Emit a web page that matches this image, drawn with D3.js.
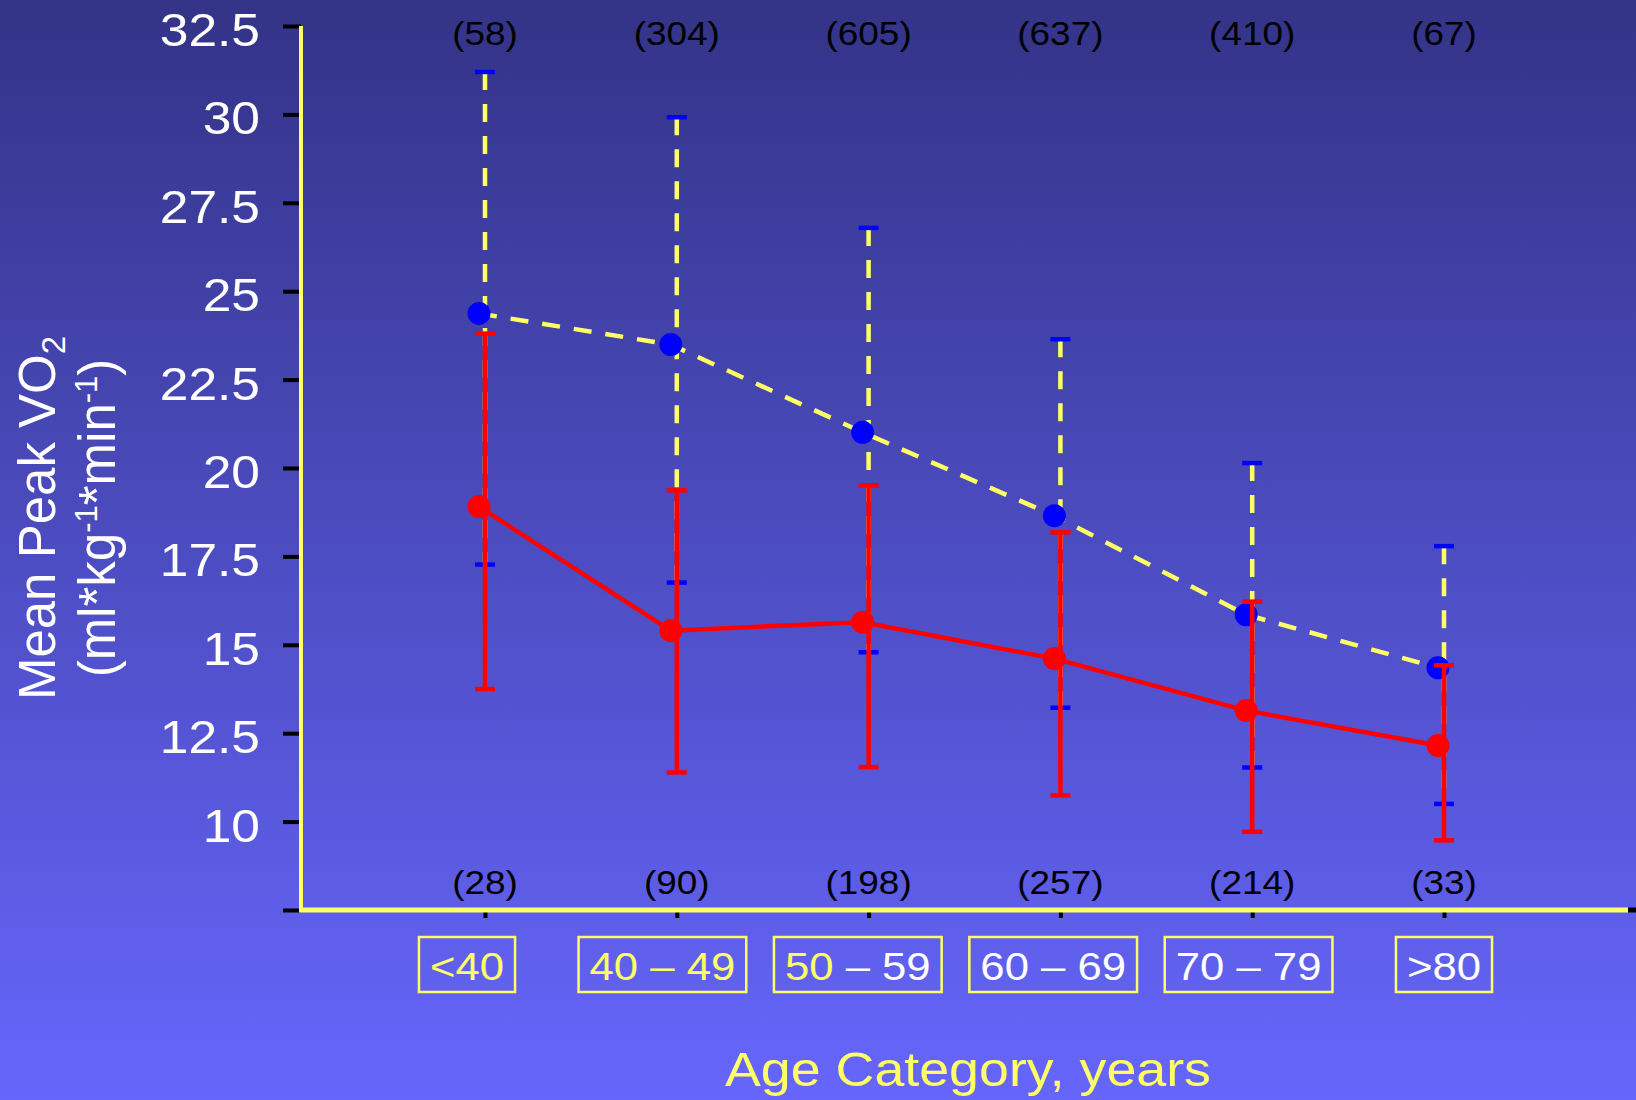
<!DOCTYPE html>
<html>
<head>
<meta charset="utf-8">
<script src="https://cdn.jsdelivr.net/npm/d3@7"></script>
<style>
  html, body { margin: 0; padding: 0; }
  body { width: 1636px; height: 1100px; overflow: hidden; }
  text { font-family: "Liberation Sans", Arial, sans-serif; }
</style>
</head>
<body>
<div id="chart"></div>
<script>
// Data
const categories = ["<40", "40 – 49", "50 – 59", "60 – 69", "70 – 79", ">80"];
const nTop = [58, 304, 605, 637, 410, 67];
const nBottom = [28, 90, 198, 257, 214, 33];

const blueMean = [24.37, 23.49, 21.01, 18.65, 15.85, 14.35];
const blueHigh = [31.2, 29.92, 26.79, 23.64, 20.14, 17.79];
const blueLow = [17.27, 16.76, 14.79, 13.22, 11.53, 10.5];

const redMean = [18.91, 15.4, 15.64, 14.61, 13.14, 12.15];
const redHigh = [23.8, 19.37, 19.51, 18.18, 16.22, 14.42];
const redLow = [13.75, 11.39, 11.54, 10.74, 9.71, 9.47];

const yTicks = [7.5, 10, 12.5, 15, 17.5, 20, 22.5, 25, 27.5, 30, 32.5];

// Dimensions
const width = 1636;
const height = 1100;
const SX = 1.12; // horizontal stretch of the slide text
const yellow = "#ffff66";

const svg = d3.select("#chart")
    .append("svg")
    .attr("width", width)
    .attr("height", height);

const defs = svg.append("defs");
const bg = defs.append("linearGradient")
    .attr("id", "bg")
    .attr("x1", 0).attr("y1", 0).attr("x2", 0).attr("y2", 1);
bg.append("stop").attr("offset", 0).attr("stop-color", "#333387");
bg.append("stop").attr("offset", 1).attr("stop-color", "#6666fc");

svg.append("rect")
    .attr("width", width)
    .attr("height", height)
    .attr("fill", "url(#bg)");

// Scales
const x = d3.scalePoint()
    .domain(categories)
    .range([485, 1444]);

// the label boxes under the axis sit on their own, slightly tighter spacing
const xBox = d3.scalePoint()
    .domain(categories)
    .range([467, 1444]);

const y = d3.scaleLinear()
    .domain([7.5, 32.5])
    .range([910, 26]);

const dotShift = -6;

// Y axis ticks (black) + labels
const yAxis = svg.append("g")
    .attr("transform", "translate(301,0)")
    .call(d3.axisLeft(y).tickValues(yTicks).tickSize(18).tickFormat(""));
yAxis.select(".domain").remove();
yAxis.selectAll(".tick line").attr("stroke", "black").attr("stroke-width", 4);

svg.selectAll("ytick")
    .data(yTicks.filter(d => d !== 7.5))
    .enter()
    .append("text")
    .attr("transform", d => `translate(260, ${y(d) + 20}) scale(${SX},1)`)
    .attr("text-anchor", "end")
    .style("font-size", "46px")
    .style("fill", "white")
    .text(d => d);

// X axis ticks (black)
const xAxis = svg.append("g")
    .attr("transform", "translate(0,910)")
    .call(d3.axisBottom(x).tickSize(8).tickFormat(""));
xAxis.select(".domain").remove();
xAxis.selectAll(".tick line").attr("stroke", "black").attr("stroke-width", 4);

// Axis lines (yellow)
svg.append("line")
    .attr("x1", 301).attr("x2", 301)
    .attr("y1", y(32.5)).attr("y2", y(7.5) + 2)
    .attr("stroke", yellow).attr("stroke-width", 4);
svg.append("line")
    .attr("x1", 299).attr("x2", 1628)
    .attr("y1", y(7.5)).attr("y2", y(7.5))
    .attr("stroke", yellow).attr("stroke-width", 5);
svg.append("line")
    .attr("x1", 1628).attr("x2", 1636)
    .attr("y1", y(7.5)).attr("y2", y(7.5))
    .attr("stroke", "black").attr("stroke-width", 5);

// Blue group: dashed yellow bars and line, blue dots
svg.selectAll("bluebar")
    .data(categories)
    .enter()
    .append("line")
    .attr("x1", d => x(d)).attr("x2", d => x(d))
    .attr("y1", (d, i) => y(blueHigh[i]))
    .attr("y2", (d, i) => y(blueLow[i]))
    .attr("stroke", yellow)
    .attr("stroke-width", 4.5)
    .attr("stroke-dasharray", "18,14");

const caps = (vals, color, cls) => {
    svg.selectAll(cls)
        .data(categories)
        .enter()
        .append("line")
        .attr("x1", d => x(d) - 10).attr("x2", d => x(d) + 10)
        .attr("y1", (d, i) => y(vals[i]))
        .attr("y2", (d, i) => y(vals[i]))
        .attr("stroke", color)
        .attr("stroke-width", 4.5);
};
caps(blueHigh, "#0000ff", "bluecapH");
caps(blueLow, "#0000ff", "bluecapL");

const line = d3.line()
    .x(d => x(d[0]) + dotShift)
    .y(d => y(d[1]));

svg.append("path")
    .datum(categories.map((c, i) => [c, blueMean[i]]))
    .attr("d", line)
    .attr("fill", "none")
    .attr("stroke", yellow)
    .attr("stroke-width", 4.5)
    .attr("stroke-dasharray", "18,14");

svg.selectAll("bluedot")
    .data(categories)
    .enter()
    .append("circle")
    .attr("cx", d => x(d) + dotShift)
    .attr("cy", (d, i) => y(blueMean[i]))
    .attr("r", 11.5)
    .attr("fill", "#0000ff");

// Red group
svg.selectAll("redbar")
    .data(categories)
    .enter()
    .append("line")
    .attr("x1", d => x(d)).attr("x2", d => x(d))
    .attr("y1", (d, i) => y(redHigh[i]))
    .attr("y2", (d, i) => y(redLow[i]))
    .attr("stroke", "#ff0000")
    .attr("stroke-width", 4.5);
caps(redHigh, "#ff0000", "redcapH");
caps(redLow, "#ff0000", "redcapL");

svg.append("path")
    .datum(categories.map((c, i) => [c, redMean[i]]))
    .attr("d", line)
    .attr("fill", "none")
    .attr("stroke", "#ff0000")
    .attr("stroke-width", 4.5);

svg.selectAll("reddot")
    .data(categories)
    .enter()
    .append("circle")
    .attr("cx", d => x(d) + dotShift)
    .attr("cy", (d, i) => y(redMean[i]))
    .attr("r", 11.5)
    .attr("fill", "#ff0000");

// Sample sizes
svg.selectAll("ntop")
    .data(categories)
    .enter()
    .append("text")
    .attr("transform", d => `translate(${x(d)}, 45) scale(${SX},1)`)
    .attr("text-anchor", "middle")
    .style("font-size", "33px")
    .style("fill", "black")
    .text((d, i) => `(${nTop[i]})`);

svg.selectAll("nbottom")
    .data(categories)
    .enter()
    .append("text")
    .attr("transform", d => `translate(${x(d)}, 894) scale(${SX},1)`)
    .attr("text-anchor", "middle")
    .style("font-size", "33px")
    .style("fill", "black")
    .text((d, i) => `(${nBottom[i]})`);

// Category boxes; text turns from yellow to white around x = 842
const splitX = 842;
const boxes = svg.selectAll("catbox")
    .data(categories)
    .enter()
    .append("g")
    .attr("transform", d => `translate(${xBox(d)},0)`);

boxes.each(function(d, i) {
    const g = d3.select(this);
    const local = (splitX - xBox(d)) / SX;
    const grad = defs.append("linearGradient")
        .attr("id", "lab" + i)
        .attr("gradientUnits", "userSpaceOnUse")
        .attr("x1", -400).attr("x2", 400).attr("y1", 0).attr("y2", 0);
    const off = Math.max(0, Math.min(1, (local + 400) / 800));
    grad.append("stop").attr("offset", off).attr("stop-color", yellow);
    grad.append("stop").attr("offset", off).attr("stop-color", "white");

    const rect = g.append("rect")
        .attr("y", 937)
        .attr("height", 55)
        .attr("fill", "none")
        .attr("stroke", yellow)
        .attr("stroke-width", 2.5);

    const t = g.append("text")
        .attr("transform", `translate(0, 980) scale(${SX},1)`)
        .attr("text-anchor", "middle")
        .style("font-size", "39px")
        .attr("fill", `url(#lab${i})`)
        .text(d);

    const w = t.node().getBBox().width * SX + 22;
    rect.attr("x", -w / 2).attr("width", w);
});

// Axis titles
svg.append("text")
    .attr("transform", `translate(968, 1086) scale(${SX},1)`)
    .attr("text-anchor", "middle")
    .style("font-size", "48px")
    .style("fill", yellow)
    .text("Age Category, years");

const yTitle = svg.append("g")
    .attr("transform", "translate(0,518) rotate(-90)")
    .style("fill", "white");

const t1 = yTitle.append("text")
    .attr("x", 0).attr("y", 55)
    .attr("text-anchor", "middle")
    .style("font-size", "51px");
t1.append("tspan").text("Mean Peak VO");
t1.append("tspan").attr("dy", 10).style("font-size", "33px").text("2");

const t2 = yTitle.append("text")
    .attr("x", 0).attr("y", 115)
    .attr("text-anchor", "middle")
    .style("font-size", "51px");
t2.append("tspan").text("(ml*kg");
t2.append("tspan").attr("dy", -18).style("font-size", "31px").text("-1");
t2.append("tspan").attr("dy", 18).text("*min");
t2.append("tspan").attr("dy", -18).style("font-size", "31px").text("-1");
t2.append("tspan").attr("dy", 18).text(")");
</script>
</body>
</html>
